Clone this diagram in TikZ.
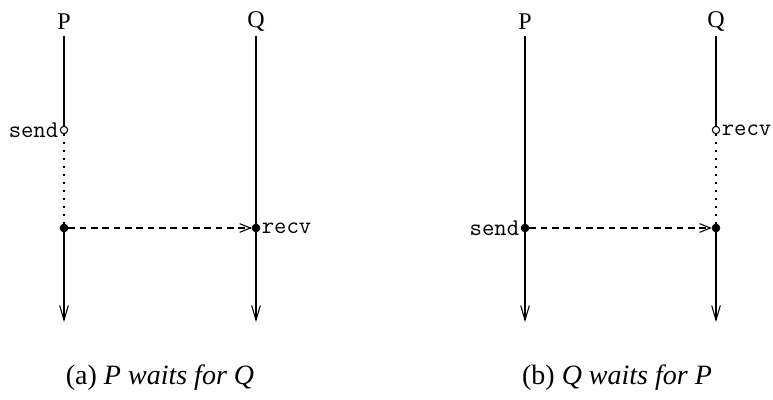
\documentclass[tikz,border=0pt]{standalone}
\usepackage{fontspec}
\setmainfont{Liberation Serif}
\usetikzlibrary{arrows.meta,positioning}

\begin{document}
\begin{tikzpicture}[
    x=0.75pt, y=-0.75pt,
    proc/.style={font=\fontsize{18}{20}\selectfont, inner sep=0pt},
    evlabel/.style={font=\ttfamily\fontsize{18}{20}\selectfont, inner sep=1pt},
    caption/.style={font=\fontsize{21}{25}\selectfont, inner sep=0pt},
    blocked/.style={draw, circle, fill=white, line width=0.8pt, inner sep=0pt, minimum size=5.5pt},
    event/.style={draw, circle, fill=black, inner sep=0pt, minimum size=6pt},
    life/.style={line width=1.6pt},
    lifeend/.style={life, -{Straight Barb[length=11pt,width=6.5pt,line width=0.8pt]}},
    wait/.style={line width=1.3pt, dash pattern=on 1.2pt off 4.8pt},
    msg/.style={line width=0.8pt, dash pattern=on 5pt off 3.5pt, -{Straight Barb[length=8pt,width=6.5pt,line width=0.8pt]}}
  ]
    \useasboundingbox (0,0) rectangle (773,399);
    % (a) P waits for Q
    \node[proc] (pa) at (64,22) {P};
    \node[proc] (qa) at (256,22) {Q};
    \node[blocked] (sendA) at (64,130) {};
    \node[event] (goA) at (64,228) {};
    \node[event] (recvA) at (256,228) {};
    \coordinate (pEndA) at (64,322);
    \coordinate (qEndA) at (256,322);
    \node[evlabel, left=0pt of sendA] (sendLblA) {send};
    \node[evlabel, right=0pt of recvA] (recvLblA) {recv};
    \draw[life] (64,36) coordinate (pStartA) -- (sendA);
    \draw[life] (256,36) coordinate (qStartA) -- (recvA);
    \draw[wait] (sendA) -- (goA);
    \draw[lifeend] (goA) -- (pEndA);
    \draw[lifeend] (recvA) -- (qEndA);
    \draw[msg] (goA) -- (recvA);
    \node[caption] (capA) at (160,378) {(a) \textit{P waits for Q}};
    % (b) Q waits for P
    \node[proc] (pb) at (525,22) {P};
    \node[proc] (qb) at (716,22) {Q};
    \node[blocked] (recvB) at (716,130) {};
    \node[event] (sendB) at (525,228) {};
    \node[event] (goB) at (716,228) {};
    \coordinate (pEndB) at (525,322);
    \coordinate (qEndB) at (716,322);
    \node[evlabel, left=0pt of sendB] (sendLblB) {send};
    \node[evlabel, right=0pt of recvB] (recvLblB) {recv};
    \draw[life] (525,36) coordinate (pStartB) -- (sendB);
    \draw[life] (716,36) coordinate (qStartB) -- (recvB);
    \draw[wait] (recvB) -- (goB);
    \draw[lifeend] (sendB) -- (pEndB);
    \draw[lifeend] (goB) -- (qEndB);
    \draw[msg] (sendB) -- (goB);
    \node[caption] (capB) at (617,378) {(b) \textit{Q waits for P}};
\end{tikzpicture}
\end{document}
